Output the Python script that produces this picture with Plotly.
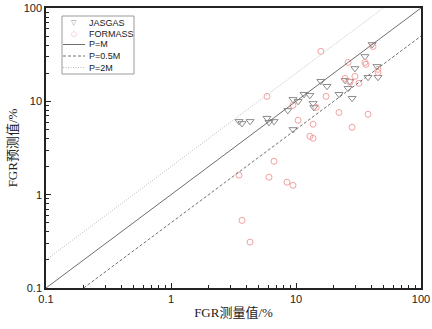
import plotly.graph_objects as go

# JASGAS (measured, predicted)
jas_x = [40.6, 35.6, 29.6, 44.5, 45.3, 37.7, 24.7, 27.0, 26.1, 22.1, 28.1, 15.8, 17.7, 11.6,
         12.9, 9.46, 10.4, 13.7, 13.9, 8.6, 5.86, 6.08, 6.67, 9.46, 3.50, 3.70, 4.29]
jas_y = [40.7, 30.3, 22.5, 23.7, 18.1, 18.1, 16.8, 16.4, 13.8, 11.9, 10.8, 16.4, 14.5, 11.9,
         11.6, 10.5, 10.0, 9.5, 8.6, 8.0, 6.6, 5.96, 6.1, 5.0, 6.1, 5.8, 6.1]

# FORMASS (measured, predicted)
for_x = [15.8, 5.86, 26.1, 35.6, 36.3, 41.3, 45.3, 45.3, 24.7, 27.0, 29.6, 31.9, 17.4, 9.46,
         14.5, 22.1, 37.7, 10.4, 13.7, 28.1, 12.9, 13.7, 6.67, 3.50, 6.08, 8.47, 9.46, 3.70, 4.29]
for_y = [34.3, 11.3, 26.1, 26.1, 24.9, 38.7, 22.0, 20.4, 17.6, 16.0, 18.5, 15.6, 11.3, 9.06,
         8.6, 7.6, 7.26, 6.26, 5.68, 5.27, 4.22, 4.02, 2.28, 1.62, 1.54, 1.36, 1.26, 0.53, 0.31]

line_x = [0.1, 100]
ratios = {"P=M": 1.0, "P=0.5M": 0.5, "P=2M": 2.0}
tick_vals = [0.1, 1, 10, 100]
tick_text = ["0.1", "1", "10", "100"]

W, H = 432, 329
ML, MR, MT, MB = 46, 11, 8, 41
PW, PH = W - ML - MR, H - MT - MB


def px_x(p):
    return (p - ML) / PW


def px_y(p):
    return (H - MB - p) / PH


JAS_C = "#8c8c8c"
FOR_C = "#f4a0a0"
styles = {"P=M": ("#6e6e6e", "solid"), "P=0.5M": ("#707070", "3px,2px"),
          "P=2M": ("#bdbdbd", "1px,1.5px")}

fig = go.Figure()
fig.add_trace(go.Scatter(x=jas_x, y=jas_y, mode="markers", name="JASGAS",
                         marker=dict(symbol="triangle-down-open", size=7, color=JAS_C,
                                     line=dict(width=1))))
fig.add_trace(go.Scatter(x=for_x, y=for_y, mode="markers", name="FORMASS",
                         marker=dict(symbol="circle-open", size=6, color=FOR_C,
                                     line=dict(width=1))))
for name, r in ratios.items():
    xs = [max(line_x[0], line_x[0] / r), min(line_x[1], line_x[1] / r)]
    ys = [v * r for v in xs]
    c, d = styles[name]
    fig.add_trace(go.Scatter(x=xs, y=ys, mode="lines", name=name,
                             line=dict(color=c, width=1, dash=d)))

minor_vals = [m * 10 ** e for e in (-1, 0, 1) for m in range(2, 10)]
axis_common = dict(type="log", tickmode="array", tickvals=tick_vals, ticktext=tick_text,
                   ticks="inside", ticklen=5, tickwidth=1, tickcolor="#222",
                   showline=True, linecolor="#222", linewidth=1.5, mirror=True,
                   showgrid=False, zeroline=False, automargin=False,
                   tickfont=dict(family="Liberation Sans, Arial", size=11, color="#222"),
                   minor=dict(ticks="inside", ticklen=3, tickcolor="#222", tickmode="array",
                              tickvals=minor_vals, showgrid=False))

title_font = dict(family="Liberation Serif, Noto Sans CJK SC", size=13, color="#222")

# manual legend (box, symbols, lines, labels)
shapes = [dict(type="rect", xref="paper", yref="paper",
               x0=px_x(62), x1=px_x(134), y0=px_y(74), y1=px_y(16),
               line=dict(color="#9a9a9a", width=1), fillcolor="white", layer="above")]
annotations = []
leg_rows = [("JASGAS", 23), ("FORMASS", 33.5), ("P=M", 44.5), ("P=0.5M", 56), ("P=2M", 67.5)]
for name, yy in leg_rows:
    annotations.append(dict(xref="paper", yref="paper", x=px_x(87), y=px_y(yy),
                            text=name, showarrow=False, xanchor="left", yanchor="middle",
                            font=dict(family="Liberation Sans, Arial", size=9, color="#222")))
annotations.append(dict(xref="paper", yref="paper", x=px_x(74), y=px_y(23), text="▽",
                        showarrow=False, xanchor="center", yanchor="middle",
                        font=dict(family="DejaVu Sans", size=7, color=JAS_C)))
annotations.append(dict(xref="paper", yref="paper", x=px_x(74), y=px_y(33.5), text="○",
                        showarrow=False, xanchor="center", yanchor="middle",
                        font=dict(family="DejaVu Sans", size=7, color=FOR_C)))
for name, yy in leg_rows[2:]:
    c, d = styles[name]
    shapes.append(dict(type="line", xref="paper", yref="paper",
                       x0=px_x(63), x1=px_x(85), y0=px_y(yy), y1=px_y(yy),
                       line=dict(color=c, width=1, dash=d), layer="above"))

fig.update_layout(
    width=W, height=H,
    margin=dict(l=ML, r=MR, t=MT, b=MB),
    paper_bgcolor="white", plot_bgcolor="white",
    xaxis=dict(range=[-1, 2], title=dict(text="FGR测量值/%", font=title_font, standoff=4),
               **axis_common),
    yaxis=dict(range=[-1, 2], title=dict(text="FGR预测值/%", font=title_font, standoff=3),
               **axis_common),
    showlegend=False,
    shapes=shapes,
    annotations=annotations,
)

fig.write_html("out.html", config={"displayModeBar": False},
               post_script="document.body.style.margin='0';document.body.style.padding='0';")
